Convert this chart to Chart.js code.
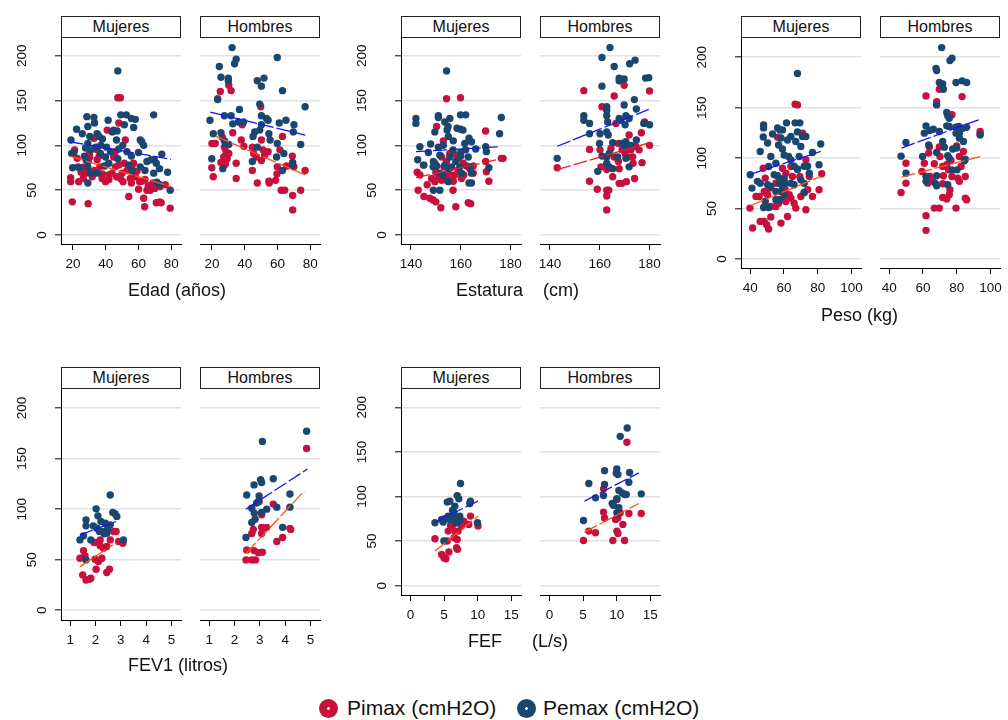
<!DOCTYPE html>
<html lang="es">
<head>
<meta charset="utf-8">
<title>Pimax y Pemax</title>
<script src="https://cdn.jsdelivr.net/npm/chart.js@4.4.1/dist/chart.umd.min.js"></script>
<style>
  body { margin: 0; background: #fff; }
  #lienzo { position: relative; width: 1008px; height: 720px; overflow: hidden;
            font-family: "Liberation Sans", Arial, sans-serif; color: #111; }
  #lienzo canvas { position: absolute; }
  .cabecera { position: absolute; height: 22px; box-sizing: border-box; border: 1px solid #222;
              background: #fff; text-align: center; font-size: 16px; line-height: 20px; }
  .titulo { position: absolute; font-size: 18px; line-height: 20px; white-space: pre; }
  .leyenda { position: absolute; font-size: 21px; line-height: 24px; white-space: pre; }
  .punto { position: absolute; width: 19px; height: 19px; border-radius: 50%; }
</style>
</head>
<body>
<div id="lienzo"></div>
<script>
// Ticks
const ticksY = [0, 50, 100, 150, 200];
const ticksEdad = [20, 40, 60, 80];
const ticksEstatura = [140, 160, 180];
const ticksPeso = [40, 60, 80, 100];
const ticksFev1 = [1, 2, 3, 4, 5];
const ticksFef = [0, 5, 10, 15];

// Edad - Mujeres
const edadMujeresPemax = [[18.8,106],[22.2,118],[28.5,132],[32.8,131],[33.2,125],[29.1,121],[25.7,113],[30.3,110],[34.8,113],[41.5,128],[44.9,117],[49.2,134],[52.6,134],[55.7,130],[58.1,129],[57.1,120],[51.4,123],[46.6,106],[69.3,134],[61.1,106],[63.2,100],[19.2,91],[20.6,92],[19.8,75],[23.9,75],[27.7,97],[29.1,102],[33.8,98],[36.8,91],[40.5,98],[39.9,87],[39.3,77],[41.9,80],[29.1,76],[30.7,69],[29.1,58],[34.8,69],[42.9,93],[47.4,85],[50.4,100],[55.7,88],[54.1,78],[56.1,72],[61.1,76],[65.2,82],[67.6,84],[69.7,84],[70.9,80],[69.3,69],[71.3,59],[72.9,74],[74.3,90],[77.8,70],[79.4,50],[47.4,183],[36,110],[38,107],[27,88],[31,95],[44,115],[48,96],[53,93],[60,92],[64,72],[73,56],[28,84],[37,100],[47,116],[62,104]];
const edadMujeresPimax = [[47.4,153],[49,153],[48,125],[52,106],[18.6,64],[18.6,59.5],[19.6,37],[23.5,59.5],[29.3,35],[21,95],[22.6,85.5],[26.7,76],[27.7,69],[26.3,63],[31.8,65],[32.8,108],[34.8,84],[36.4,76],[37.8,63],[39.9,59.5],[40.9,117],[41.9,67],[43.9,69],[44.9,87],[45.9,76],[46.6,65],[49,63],[50,69],[50.6,59.5],[51.4,80],[54.1,43],[55,63],[55.7,58],[57,80],[59.1,71],[60.1,51],[60.7,59.5],[63.2,41],[63.8,31.6],[65.2,50],[67.2,50],[68.9,58],[70.9,36],[72.9,37],[73.9,36],[73.3,54],[76.4,56],[79.4,30],[23,76],[30.3,87],[34.8,95],[45.9,93],[29.3,82],[25,70],[33,72],[38,68],[42,62],[53,72],[58,65],[62,60],[66,55],[70,52],[30,90],[36,88],[48,78],[56,76],[64,62]];
const edadMujeresAjustePimax = [[18,88],[80,54]];
const edadMujeresAjustePemax = [[18,104],[80,84.5]];

// Edad - Hombres
const edadHombresPemax = [[32.3,209],[34.8,196],[33.8,191],[24.5,188],[25.5,176],[30,175],[30,172],[59.9,198],[47.7,172],[50.2,166],[51.8,175],[63.1,161],[23.5,151],[36.8,140],[76.9,143],[49.2,146],[18.8,128],[27.6,133],[31.7,133],[32.7,124],[36.2,126],[39.3,126],[50.2,133],[53.3,130],[54.3,128],[61.1,125],[65.2,128],[70.1,123],[69.7,115],[50.2,123],[49.2,117],[46.1,115],[45.1,110],[54.8,113],[55.5,106],[20.8,113],[25.5,114],[27.6,105],[28.2,102],[30.3,101],[47.7,98],[59.9,102],[59.5,87],[63.9,91],[74.2,101],[19.9,85],[26.6,74],[44.7,82],[69.3,81],[69.3,78],[63.1,72]];
const edadHombresPimax = [[25.1,160],[30.3,167],[31.7,161],[23.5,152],[49.8,143],[32.7,114],[38.5,123],[50.2,106],[20,102],[22,102],[19.9,75],[20.8,65],[26.4,109],[27.6,98],[28.6,93],[27.2,87],[25.5,81],[30.3,91],[29.3,85],[28.2,79],[34.8,80],[34.8,63],[37.9,106],[39.5,99],[44.7,98],[45.5,91],[47.1,87],[44.7,72],[47.7,58],[50.2,83],[51.2,95],[52.2,89],[54.3,93],[54.8,60],[55,58],[58.9,61],[59.7,68],[59.9,76],[61.5,95],[63.1,110],[62.3,50],[64.4,50],[69.1,88],[69.3,44],[69.3,28],[70.1,76],[76.9,72],[74.2,50],[65.6,77]];
const edadHombresAjustePimax = [[22.5,110],[77,67]];
const edadHombresAjustePemax = [[19,137],[77,111.5]];

// Estatura - Mujeres
const estaturaMujeresPemax = [[154.3,183],[142,130],[142,124.5],[143.6,98.5],[142.7,84],[145.2,78],[147,92],[147.9,101.5],[149.6,115],[151,133],[151,131],[153.6,126],[155.6,130],[154.5,117],[154.9,121],[159.9,134],[162,134],[158.5,119],[159.9,118],[160.9,117],[163.3,108],[164.3,104],[161.6,102],[176.3,131],[175.6,113],[170,98.5],[170.3,93],[171.3,75],[151,98],[151.6,89],[148.9,76],[150.3,77],[151.6,69],[152.9,67],[153.6,78],[155,74],[156.3,76],[155.6,87],[156.9,95],[158,82],[159.6,76],[160.3,69],[162,95],[163,87],[163.6,76],[164.3,69],[163.3,58],[164.3,58],[149,50],[151.6,50],[155,59.5],[153,100],[157,105],[160,88],[166,96],[149,82],[155,110],[160,92]];
const estaturaMujeresPimax = [[154.3,152],[159.9,153],[150.3,121],[170,116],[142.5,70],[143.6,67],[142.9,50],[145.2,43],[147.6,41],[148.9,39],[150,37],[152,30.5],[158,31.6],[163,36],[164,35],[146.5,56],[148.3,63],[149.6,59.5],[151,63],[152.3,61],[153.2,67],[154.3,61],[153.2,76],[154.3,82],[155.6,91],[155.6,67],[156.9,50],[157.6,67],[159,72.5],[158.3,89],[159,85.5],[160.3,63],[161.2,67],[162.3,77],[163.6,74],[165,69],[165,77],[170,82],[170.3,70.6],[171.3,60],[176.3,85.5],[177,85.5],[152.3,87],[149.6,80],[145,78],[153,105],[157,60],[161,80],[150,70],[156,75]];
const estaturaMujeresAjustePimax = [[142,64],[176,85]];
const estaturaMujeresAjustePemax = [[142,93],[175.6,98.5]];

// Estatura - Hombres
const estaturaHombresPemax = [[164.1,209],[160.9,198],[165.8,188],[172,191],[174.2,195],[167.8,175],[167.8,172],[169.8,174],[178.4,175],[179.7,175.5],[160.9,166],[173.9,151],[162.8,143],[162.8,139],[169.8,145],[174.7,140.5],[153.6,133],[153.6,128],[155.9,124.5],[162.8,133],[163.2,126],[167.8,130],[168.5,128],[170.5,133],[171.8,130],[170.2,123],[177.7,124.5],[180,123],[155.9,113],[160.1,113],[162.8,115],[163.4,111.5],[165.2,103],[159.9,102],[160.9,88],[162.8,87],[163.8,91],[167.2,87],[168.9,102],[169.8,100],[170.5,104],[171.2,98.5],[172.5,100],[174.7,106],[170.5,85.5],[142.9,85.5],[159.2,71],[162.8,80],[163.8,76],[165.2,74],[171.8,76]];
const estaturaHombresPimax = [[153.6,161],[165.8,155],[169.8,167],[180,160.6],[160.9,143],[166.5,124.5],[178,126],[176.7,114],[142.9,75],[155.9,95.5],[155.9,60],[159,51],[162.8,50],[163.6,50],[162.8,43.5],[162.8,28],[160.1,95],[164.5,96.6],[165.8,87],[160.5,76],[162.8,73],[165.2,65],[167.8,57.6],[168.9,57.6],[170.7,59.5],[167.8,74],[167.5,82],[169,95],[170.2,91],[171.2,87],[172.5,95],[173.2,87],[173.4,80],[171.8,111.5],[174.4,99],[175.8,95],[174,63],[177,80.7],[180,100],[167.5,102]];
const estaturaHombresAjustePimax = [[142.9,73],[180,103]];
const estaturaHombresAjustePemax = [[142.9,99],[179.7,140]];

// Peso - Mujeres
const pesoMujeresPemax = [[68,184],[47.9,133],[47.9,130],[56.2,130],[57.6,128],[59.1,128],[61.5,135],[66.6,135],[69.4,135],[47.7,121],[53.2,124],[50.3,115],[45.9,106.6],[52.2,101.6],[55.2,95],[56.8,113],[58.2,120],[59.1,109],[60.1,103],[62.1,118],[64.1,121.5],[67,116.5],[68,126],[71,121.5],[73,121.5],[70,111.5],[69,101.6],[62.7,101.6],[64.1,98.3],[66,92],[68,89],[72,92],[74,92],[76.9,105.6],[81.8,114],[80.8,93.4],[40,83.5],[41,70.3],[44.3,77],[45.9,75],[50.3,73.6],[52.2,72],[50.9,91.7],[54.2,83.5],[56.2,82.5],[57.2,75],[59.1,73.6],[61.1,75],[55.2,67],[58.2,67],[60.1,63.7],[64.1,75],[66,73.6],[70,78.5],[72,75],[72,66],[75,85],[48.9,57],[47.9,51],[50.9,51],[55.2,58.7],[57.2,58.7],[60.1,80]];
const pesoMujeresPimax = [[66.6,153.5],[68,152.8],[56.2,120.8],[71,124.8],[39.8,50.5],[41.4,30.7],[45.9,37.3],[48.3,37.3],[49.7,34],[50.9,29.7],[52.2,41.6],[58.2,35.6],[62.1,42.2],[43.4,62],[45.3,62],[48.3,67],[50.3,63.7],[52.2,52],[55.2,52],[56.8,55.4],[59.1,58.7],[61.1,57],[63.1,63.7],[64.1,60.4],[66,55.4],[67,50.5],[73,48.8],[70,62],[72,66],[74,68.6],[76.9,62],[80.8,68.6],[82.4,84.5],[48.9,80.2],[47.7,90],[49.7,65],[51.6,70.3],[55.2,75.2],[57.2,80.2],[59.1,90],[61.1,85],[64.1,91.7],[65,81.8],[68,89],[69.4,81.8],[73,98.3],[75,81.8],[59.1,72],[60.7,68.6]];
const pesoMujeresAjustePimax = [[40,52.8],[81.8,81.8]];
const pesoMujeresAjustePemax = [[40,84],[81.8,106.6]];

// Peso - Hombres
const pesoHombresPemax = [[71.1,209.6],[76,196.7],[77.2,199],[67.7,189],[68.1,186.8],[69.7,175],[71.7,173.6],[72.1,168.3],[79.6,175],[83.2,176.6],[85.9,175],[68.1,152.8],[74.1,145.2],[74.7,142],[75.6,139.6],[61.8,132],[66.1,128.7],[60.8,124.8],[63.8,127.4],[69.7,126.4],[74.1,132],[75.6,131.4],[79.6,130.7],[81.2,131.4],[83.6,129.7],[85.9,130.7],[79.6,124.8],[81.6,124.8],[81.6,119.8],[93.9,123],[49.9,115.5],[47,102],[59.8,101.6],[63.4,113],[71.7,116.5],[72.7,110.9],[68.1,105.6],[74.7,102.3],[75.6,100],[77.6,109],[80,110],[84,116.5],[84.6,97.4],[49.9,85],[61.8,81.8],[61.8,77],[68.1,82.5],[67.3,75],[68.1,72.6],[74.7,73.6],[77.2,88.4],[80.2,88.4],[85.1,99]];
const pesoHombresPimax = [[61.8,161.7],[68.1,156],[69.7,168.3],[83.2,161],[77.2,143],[93.9,126.4],[93.9,124],[47,66],[49.9,95],[49.9,75.2],[60.8,95],[59.4,86.8],[63.8,111],[63.4,105],[62.8,75.2],[65.7,77],[66.7,94.4],[69.7,111],[70.1,101.6],[71.7,91.7],[72.1,82.5],[74.1,93.4],[75.2,88.4],[76.6,97.7],[77.2,81.8],[80,112],[81.6,101.6],[82.6,91.7],[80.6,80.2],[81.6,77],[84,106.6],[85.1,81.8],[71.7,61],[74.1,59.4],[75.6,63.7],[76,68.6],[79.6,50.5],[66.7,50.5],[69.7,50.5],[61.8,43],[61.8,28.4],[85.1,60.4],[85.9,58.7],[64.2,81.8],[71.7,74.6]];
const pesoHombresAjustePimax = [[47.3,81.2],[93.9,101.6]];
const pesoHombresAjustePemax = [[47.3,110],[93.9,138.6]];

// FEV1 - Mujeres
const fev1MujeresPemax = [[2.58,114],[2.02,100.3],[1.62,89.4],[1.62,83.5],[2.09,93.4],[2.21,87.8],[1.91,83.5],[2.05,81.2],[2.15,77.9],[2.25,77.9],[2.34,75.6],[2.44,76.2],[2.47,80.2],[2.68,96.7],[2.77,95.4],[2.84,92.7],[1.38,69.6],[1.52,73.6],[1.81,69.6],[3.1,69.6],[1.62,49.8],[2.38,86],[2.58,84.5]];
const fev1MujeresPimax = [[1.38,51.5],[1.52,52.1],[1.52,59],[1.58,53.8],[1.49,35],[1.62,30],[1.75,30.7],[1.81,31.7],[1.98,50.5],[2.11,48.2],[2.02,40.6],[2.25,51.5],[1.94,67],[2.07,67],[2.18,69.6],[2.18,63.7],[2.31,61.4],[2.44,63],[2.58,69.6],[2.71,77.9],[2.81,77.9],[2.91,68],[3.08,66.3],[2.44,37.3],[2.55,40.6]];
const fev1MujeresAjustePimax = [[1.38,43.2],[2.68,64.7]];
const fev1MujeresAjustePemax = [[1.38,74.6],[2.81,87.8]];

// FEV1 - Hombres
const fev1HombresPemax = [[4.85,177],[3.1,167],[3.03,129],[3.07,126.4],[3.53,130],[2.77,124],[2.48,114],[2.97,113],[4.19,115],[2.87,106],[2.94,107.6],[2.68,101],[2.78,96],[3.07,96.7],[3.27,100],[3.67,102],[4.19,102],[2.81,90],[2.68,86.8],[3.9,82],[2.45,72]];
const fev1HombresPimax = [[4.85,160],[2.97,107.6],[3.53,105],[2.74,80],[2.68,76],[3.07,82],[3.14,81],[3.27,82],[3.07,76],[3.07,94.4],[4.19,81],[4.22,80],[3.9,72],[3.67,68],[2.48,59.7],[2.77,59],[2.94,57],[3.1,57.4],[2.45,49.8],[2.68,49.8],[2.83,49.8]];
const fev1HombresAjustePimax = [[2.45,56.4],[4.76,118]];
const fev1HombresAjustePemax = [[2.45,100],[4.88,139.6]];

// FEF - Mujeres
const fefMujeresPemax = [[7.45,114.6],[6.96,101],[7.2,97.4],[5.48,93.7],[5.87,94.8],[6.61,89.2],[6.27,84.7],[6.46,81.7],[8.93,94.8],[8.83,92.2],[3.65,70.5],[4.64,74.3],[4.88,71.3],[5.13,75],[5.62,78],[5.87,74.3],[6.61,76],[6.96,74.3],[7.35,78],[7.35,74.3],[6.76,70.5],[7.1,71.3],[4.98,50],[9.97,70.5]];
const fefMujeresPimax = [[3.65,52.6],[4.64,35],[4.98,31.3],[5.28,30.2],[5.72,37.7],[5.62,61.2],[5.97,67.5],[6.36,68.7],[6.51,53.7],[6.96,51.9],[6.86,42.5],[7,40.7],[6.61,61.2],[7.1,61.2],[7.25,70.5],[7.6,66.8],[7.94,72.4],[8.93,78],[8.68,68.7],[10.06,66.8],[5.48,50]];
const fefMujeresAjustePimax = [[3.65,38.8],[10.06,78]];
const fefMujeresAjustePemax = [[3.65,71.3],[10.06,94.8]];

// FEF - Hombres
const fefHombresPemax = [[11.57,176.9],[10.53,167.5],[8.2,129],[10.03,131],[10.18,124.6],[9.94,126.5],[11.92,127],[5.86,114.6],[8.2,113.4],[11.82,116],[10.33,106.7],[10.83,104],[11.18,102.2],[11.43,102.2],[13.66,103],[8.05,101],[6.86,98.5],[10.03,97.4],[9.34,92.2],[9.54,90],[10.33,87.3],[10.03,81.7],[5.07,73]];
const fefHombresPimax = [[11.53,160.8],[8.05,108.6],[10.03,96.6],[8.05,82.5],[8.2,76],[9.84,74.3],[10.18,76],[10.53,81.7],[11.82,81],[13.66,81],[10.93,68.7],[5.86,61.2],[6.86,59.3],[10.03,61.2],[10.18,58.6],[5.07,50.7],[9.44,50.7],[11.18,50.7]];
const fefHombresAjustePimax = [[5.22,60],[13.3,92.2]];
const fefHombresAjustePemax = [[5.22,94.8],[13.3,126.5]];

// Colores
const COLOR_PIMAX = '#C8103C';
const COLOR_PEMAX = '#1A476F';
const AJUSTE_PEMAX = '#1414FF';
const AJUSTE_PIMAX = '#FF5214';
const AJUSTE_PIMAX_ROJO = '#F21C1C';
const FUENTE = '"Liberation Sans", Arial, sans-serif';

Chart.defaults.font.family = FUENTE;
Chart.defaults.color = '#111';

const lienzo = document.getElementById('lienzo');
const aXY = arr => arr.map(([x, y]) => ({ x, y }));

// etiquetas del eje Y giradas, como en Stata
const etiquetasY = {
    id: 'etiquetasY',
    afterDraw(chart) {
        const s = chart.scales.y;
        const ctx = chart.ctx;
        ctx.save();
        ctx.font = '13.5px ' + FUENTE;
        ctx.fillStyle = '#111';
        ctx.textAlign = 'center';
        ctx.textBaseline = 'middle';
        s.ticks.forEach(t => {
            const texto = String(t.value);
            const ancho = ctx.measureText(texto).width;
            ctx.save();
            ctx.translate(s.right - 9 - 1.3 * ancho, s.getPixelForValue(t.value));
            ctx.rotate(-Math.PI / 2);
            ctx.fillText(texto, 0, 0);
            ctx.restore();
        });
        ctx.restore();
    }
};

function crearPanel(p) {
    const P = 20;
    const yw = p.ejeY ? 55 : 0;
    const xh = 30;
    const canvas = document.createElement('canvas');
    canvas.width = p.w + yw + 2 * P;
    canvas.height = p.h + xh + 2 * P;
    canvas.style.left = (p.x - yw - P) + 'px';
    canvas.style.top = (p.y - P) + 'px';
    lienzo.appendChild(canvas);

    const cab = document.createElement('div');
    cab.className = 'cabecera';
    cab.textContent = p.titulo;
    cab.style.left = p.x + 'px';
    cab.style.top = (p.y - 22) + 'px';
    cab.style.width = p.w + 'px';
    lienzo.appendChild(cab);

    const linea = (data, color) => ({
        data: aXY(data), showLine: true, borderColor: color, borderWidth: 1.3,
        borderDash: [14, 3], pointRadius: 0, fill: false
    });
    const puntos = (data, color) => ({
        data: aXY(data), backgroundColor: color, borderWidth: 0, pointRadius: 3.7, pointHoverRadius: 3.7
    });

    new Chart(canvas, {
        type: 'scatter',
        data: {
            datasets: [
                linea(p.ajustePemax, AJUSTE_PEMAX),
                linea(p.ajustePimax, p.colorAjuste || AJUSTE_PIMAX),
                puntos(p.pemax, COLOR_PEMAX),
                puntos(p.pimax, COLOR_PIMAX)
            ]
        },
        options: {
            responsive: false,
            animation: false,
            events: [],
            layout: { padding: P },
            plugins: { legend: { display: false }, tooltip: { enabled: false } },
            scales: {
                x: {
                    type: 'linear', min: p.xMin, max: p.xMax, bounds: 'data',
                    afterBuildTicks: s => { s.ticks = p.ticksX.map(v => ({ value: v })); },
                    afterFit: s => { s.height = xh; },
                    grid: { display: true, drawOnChartArea: false, drawTicks: true, tickLength: 6, tickColor: '#000', tickWidth: 1 },
                    border: { display: true, color: '#000', width: 1 },
                    ticks: { padding: 6, font: { size: 13.5 }, color: '#111', maxRotation: 0, autoSkip: false }
                },
                y: {
                    type: 'linear', min: p.yMin, max: p.yMax, bounds: 'data',
                    afterBuildTicks: s => { s.ticks = ticksY.map(v => ({ value: v })); },
                    afterFit: s => { s.width = yw; },
                    grid: { color: '#e1e1e1', lineWidth: 1.6, drawTicks: p.ejeY, tickLength: 6, tickColor: '#000', tickWidth: 1 },
                    border: { display: p.ejeY, color: '#000', width: 1 },
                    ticks: { display: false }
                }
            }
        },
        plugins: p.ejeY ? [etiquetasY] : []
    });
}

// Filas de paneles
const fila1 = { y: 38, h: 206, yMin: -10, yMax: 219.7 };
const fila1Peso = { y: 38, h: 230, yMin: -8.9, yMax: 219.1 };
const fila2Fev = { y: 389, h: 231, yMin: -9.6, yMax: 218.8 };
const fila2Fef = { y: 389, h: 206, yMin: -10.5, yMax: 220.6 };

const paneles = [
    { ...fila1, x: 61, w: 120, ejeY: true, titulo: 'Mujeres', xMin: 12.7, xMax: 86, ticksX: ticksEdad,
      pimax: edadMujeresPimax, pemax: edadMujeresPemax, ajustePimax: edadMujeresAjustePimax, ajustePemax: edadMujeresAjustePemax },
    { ...fila1, x: 200, w: 120, ejeY: false, titulo: 'Hombres', xMin: 12.7, xMax: 86, ticksX: ticksEdad,
      pimax: edadHombresPimax, pemax: edadHombresPemax, ajustePimax: edadHombresAjustePimax, ajustePemax: edadHombresAjustePemax },
    { ...fila1, x: 401, w: 120, ejeY: true, titulo: 'Mujeres', xMin: 136, xMax: 184.2, ticksX: ticksEstatura, colorAjuste: AJUSTE_PIMAX_ROJO,
      pimax: estaturaMujeresPimax, pemax: estaturaMujeresPemax, ajustePimax: estaturaMujeresAjustePimax, ajustePemax: estaturaMujeresAjustePemax },
    { ...fila1, x: 540, w: 120, ejeY: false, titulo: 'Hombres', xMin: 136, xMax: 184.2, ticksX: ticksEstatura, colorAjuste: AJUSTE_PIMAX_ROJO,
      pimax: estaturaHombresPimax, pemax: estaturaHombresPemax, ajustePimax: estaturaHombresAjustePimax, ajustePemax: estaturaHombresAjustePemax },
    { ...fila1Peso, x: 741, w: 120, ejeY: true, titulo: 'Mujeres', xMin: 34.5, xMax: 105.7, ticksX: ticksPeso,
      pimax: pesoMujeresPimax, pemax: pesoMujeresPemax, ajustePimax: pesoMujeresAjustePimax, ajustePemax: pesoMujeresAjustePemax },
    { ...fila1Peso, x: 880, w: 120, ejeY: false, titulo: 'Hombres', xMin: 34.5, xMax: 105.7, ticksX: ticksPeso,
      pimax: pesoHombresPimax, pemax: pesoHombresPemax, ajustePimax: pesoHombresAjustePimax, ajustePemax: pesoHombresAjustePemax },
    { ...fila2Fev, x: 61, w: 120, ejeY: true, titulo: 'Mujeres', xMin: 0.63, xMax: 5.38, ticksX: ticksFev1,
      pimax: fev1MujeresPimax, pemax: fev1MujeresPemax, ajustePimax: fev1MujeresAjustePimax, ajustePemax: fev1MujeresAjustePemax },
    { ...fila2Fev, x: 200, w: 120, ejeY: false, titulo: 'Hombres', xMin: 0.63, xMax: 5.38, ticksX: ticksFev1,
      pimax: fev1HombresPimax, pemax: fev1HombresPemax, ajustePimax: fev1HombresAjustePimax, ajustePemax: fev1HombresAjustePemax },
    { ...fila2Fef, x: 401, w: 120, ejeY: true, titulo: 'Mujeres', xMin: -1.4, xMax: 16.45, ticksX: ticksFef,
      pimax: fefMujeresPimax, pemax: fefMujeresPemax, ajustePimax: fefMujeresAjustePimax, ajustePemax: fefMujeresAjustePemax },
    { ...fila2Fef, x: 540, w: 120, ejeY: false, titulo: 'Hombres', xMin: -1.4, xMax: 16.45, ticksX: ticksFef,
      pimax: fefHombresPimax, pemax: fefHombresPemax, ajustePimax: fefHombresAjustePimax, ajustePemax: fefHombresAjustePemax }
];
paneles.forEach(crearPanel);

// Titulos de los ejes X
const titulos = [
    ['Edad (años)', 128, 280],
    ['Estatura    (cm)', 456, 280],
    ['Peso (kg)', 821, 305],
    ['FEV1 (litros)', 128, 655],
    ['FEF      (L/s)', 468, 631]
];
titulos.forEach(([texto, x, y]) => {
    const d = document.createElement('div');
    d.className = 'titulo';
    d.textContent = texto;
    d.style.left = x + 'px';
    d.style.top = y + 'px';
    lienzo.appendChild(d);
});

// Leyenda
const leyenda = [
    ['Pimax (cmH2O)', COLOR_PIMAX, 319, 347],
    ['Pemax (cmH2O)', COLOR_PEMAX, 517, 543]
];
leyenda.forEach(([texto, color, xp, xt]) => {
    const p = document.createElement('div');
    p.className = 'punto';
    p.style.left = xp + 'px';
    p.style.top = '699px';
    p.style.background = 'radial-gradient(circle, #fff 0 1px, ' + color + ' 1.6px)';
    lienzo.appendChild(p);
    const t = document.createElement('div');
    t.className = 'leyenda';
    t.textContent = texto;
    t.style.left = xt + 'px';
    t.style.top = '696px';
    lienzo.appendChild(t);
});
</script>
</body>
</html>
